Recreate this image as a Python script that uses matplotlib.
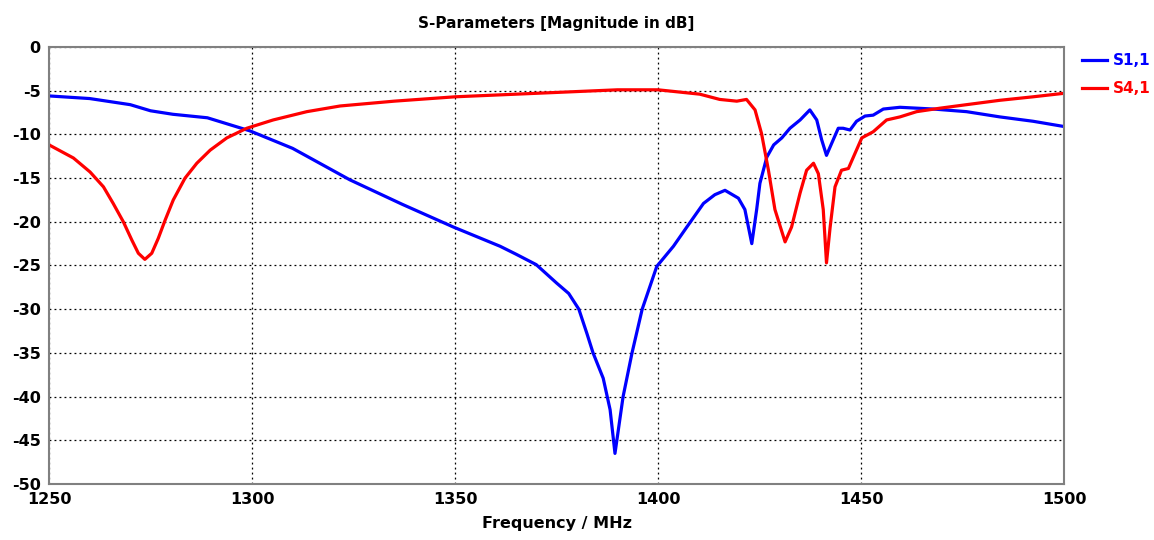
import matplotlib.pyplot as plt

plt.rcParams["axes.unicode_minus"] = False

# S1,1 trace (MHz, dB)
s11_freq = [1250, 1260, 1270, 1275, 1280.5, 1289, 1299.5, 1310, 1324.1, 1337, 1349.6,
            1361.1, 1365, 1370, 1375, 1378, 1380.5, 1382.5, 1384.0, 1386.5, 1388.2,
            1389.4, 1391.4, 1393.6, 1396.1, 1399.7, 1403.8, 1407.1, 1411.2, 1414.0, 1416.5,
            1419.8, 1421.4, 1423.1, 1424.3, 1425.1, 1426.8, 1428.5, 1430.5, 1432.5, 1435,
            1437.4, 1439.1, 1440.3, 1441.5, 1442.8, 1444.4, 1445.6, 1447.3, 1448.9, 1451,
            1453, 1455.5, 1459.6, 1467.8, 1476.0, 1484.2, 1492.4, 1500]
s11_db = [-5.6, -5.9, -6.6, -7.3, -7.7, -8.1, -9.6, -11.6, -15.2, -18.0, -20.6,
          -22.8, -23.7, -24.9, -27.0, -28.2, -30.0, -32.8, -35.0, -37.9, -41.5,
          -46.5, -40.0, -35.0, -30.0, -25.1, -22.8, -20.6, -17.9, -16.9, -16.4,
          -17.3, -18.6, -22.5, -18.6, -15.6, -12.6, -11.2, -10.4, -9.3, -8.35,
          -7.2, -8.35, -10.6, -12.4, -11.0, -9.3, -9.3, -9.5, -8.5, -7.9,
          -7.8, -7.1, -6.9, -7.1, -7.4, -8.0, -8.5, -9.1]

# S4,1 trace (MHz, dB)
s41_freq = [1250, 1256, 1260.1, 1263.4, 1265.8, 1268.3, 1270.4, 1272.0, 1273.6, 1275.3,
            1276.9, 1278.6, 1280.6, 1283.5, 1286.4, 1289.7, 1293.8, 1298.7, 1305.2, 1313.5,
            1321.7, 1335, 1350, 1375, 1390, 1400, 1410.3, 1415.2, 1419.4, 1421.8,
            1423.9, 1425.5, 1427.2, 1428.8, 1431.3, 1432.9, 1435, 1436.6, 1438.3, 1439.5,
            1440.7, 1441.5, 1442.4, 1443.6, 1445.2, 1446.9, 1448.5, 1450.2, 1453, 1456.3,
            1459.6, 1463.7, 1469.5, 1476, 1484.2, 1492.4, 1500]
s41_db = [-11.2, -12.7, -14.3, -16.0, -17.9, -20.0, -22.1, -23.6, -24.3, -23.6,
          -21.9, -19.8, -17.5, -15.0, -13.3, -11.8, -10.4, -9.3, -8.35, -7.4,
          -6.75, -6.2, -5.7, -5.2, -4.9, -4.9, -5.4, -6.0, -6.2, -6.0,
          -7.2, -9.9, -14.1, -18.6, -22.3, -20.6, -16.7, -14.1, -13.3, -14.5,
          -18.6, -24.7, -20.6, -16.0, -14.1, -13.9, -12.2, -10.4, -9.7, -8.35,
          -8.0, -7.4, -7.0, -6.6, -6.1, -5.7, -5.3]

x_ticks = [1250, 1300, 1350, 1400, 1450, 1500]
y_ticks = list(range(-50, 1, 5))

fig = plt.figure(figsize=(11.54, 5.4), dpi=100)
ax = fig.add_axes([0.0425, 0.1037, 0.8795, 0.8093])

ax.plot(s11_freq, s11_db, color="#0000ff", lw=2.3, label="S1,1")
ax.plot(s41_freq, s41_db, color="#ff0000", lw=2.3, label="S4,1")

ax.set_xlim(1250, 1500)
ax.set_ylim(-50, 0)
ax.set_xticks(x_ticks)
ax.set_yticks(y_ticks)
ax.grid(True, color="black", linestyle=(0, (1.5, 2.5)), linewidth=0.9)

for side in ax.spines.values():
    side.set_color("#808080")
    side.set_linewidth(1.5)

ax.tick_params(length=0, pad=6)
for lbl in ax.get_xticklabels() + ax.get_yticklabels():
    lbl.set_fontweight("bold")
    lbl.set_fontsize(11.5)

ax.set_xlabel("Frequency / MHz", fontsize=11.5, fontweight="bold", labelpad=6)
ax.set_title("S-Parameters [Magnitude in dB]", fontsize=11, fontweight="bold", pad=14)

# legend sits outside the plot, to the right of the top corner
leg = ax.legend(loc="upper left", bbox_to_anchor=(1.012, 1.0), frameon=False,
                handlelength=1.6, handletextpad=0.4, labelspacing=0.85,
                prop={"weight": "bold", "size": 11}, borderaxespad=0)
for text, line in zip(leg.get_texts(), leg.get_lines()):
    text.set_color(line.get_color())

fig.savefig("out.png", dpi=100)
